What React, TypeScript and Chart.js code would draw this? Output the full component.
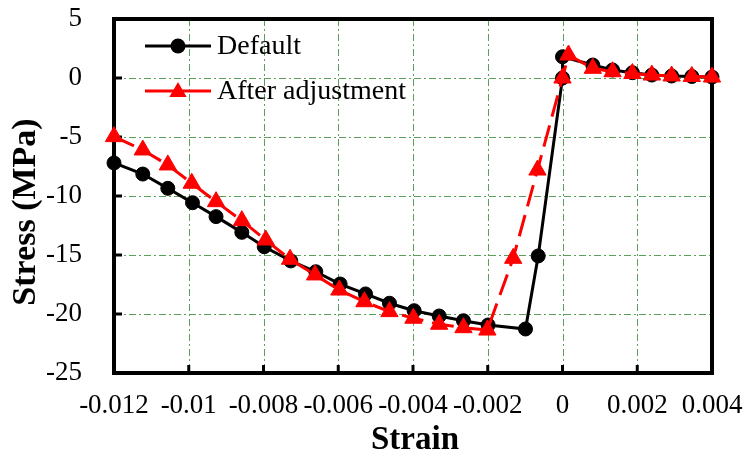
import React, { useEffect, useRef } from "react";
import { Chart, registerables } from "chart.js";

Chart.register(...registerables);

const strainDefault = [-0.012, -0.01123, -0.01056, -0.0099, -0.00927, -0.00858, -0.00798, -0.00727, -0.0066, -0.00595, -0.00527, -0.00463, -0.00397, -0.0033, -0.00265, -0.00199, -0.00099, -0.00065, 0, 0, 0.00081, 0.00134, 0.00187, 0.00239, 0.00292, 0.00346, 0.004];
const stressDefault = [-7.2, -8.14, -9.35, -10.57, -11.75, -13.08, -14.3, -15.5, -16.42, -17.46, -18.3, -19.09, -19.72, -20.17, -20.57, -20.93, -21.27, -15.08, 0, 1.8, 1.1, 0.68, 0.45, 0.25, 0.17, 0.13, 0.08];

const strainAdjusted = [-0.012, -0.01123, -0.01056, -0.00992, -0.00927, -0.00858, -0.00794, -0.00729, -0.00662, -0.00597, -0.0053, -0.00463, -0.00399, -0.0033, -0.00265, -0.00201, -0.00132, -0.00067, 0, 0.00016, 0.00081, 0.00134, 0.00187, 0.00239, 0.00292, 0.00346, 0.004];
const stressAdjusted = [-4.97, -6.1, -7.37, -8.92, -10.48, -12.09, -13.73, -15.36, -16.69, -17.97, -18.96, -19.8, -20.36, -20.87, -21.16, -21.36, -15.28, -7.8, 0, 1.95, 0.82, 0.53, 0.38, 0.25, 0.17, 0.13, 0.08];

const seriesNames = ["Default", "After adjustment"];
const xTitle = "Strain";
const yTitle = "Stress (MPa)";
const xMin = -0.012, xMax = 0.004, xStep = 0.002;
const yMin = -25, yMax = 5, yStep = 5;

const FONT = "'Liberation Serif', 'Times New Roman', serif";
const GRID = "#5a9f5a";

const framePlugin = {
  id: "frameGrid",
  beforeDatasetsDraw(chart: any) {
    const { ctx, chartArea } = chart;
    const { left, right, top, bottom } = chartArea;
    const xs = chart.scales.x, ys = chart.scales.y;
    ctx.save();
    ctx.strokeStyle = GRID;
    ctx.lineWidth = 1;
    ctx.setLineDash([7, 3, 2, 3]);
    xs.ticks.forEach((t: any) => {
      const p = Math.round(xs.getPixelForValue(t.value)) + 0.5;
      if (p > left + 3 && p < right - 3) {
        ctx.beginPath(); ctx.moveTo(p, top); ctx.lineTo(p, bottom); ctx.stroke();
      }
    });
    ys.ticks.forEach((t: any) => {
      const p = Math.round(ys.getPixelForValue(t.value)) + 0.5;
      if (p > top + 3 && p < bottom - 3) {
        ctx.beginPath(); ctx.moveTo(left, p); ctx.lineTo(right, p); ctx.stroke();
      }
    });
    ctx.setLineDash([]);
    ctx.strokeStyle = "#000";
    ctx.lineWidth = 3;
    xs.ticks.forEach((t: any) => {
      const p = xs.getPixelForValue(t.value);
      ctx.beginPath(); ctx.moveTo(p, bottom); ctx.lineTo(p, bottom - 8); ctx.stroke();
    });
    ys.ticks.forEach((t: any) => {
      const p = ys.getPixelForValue(t.value);
      ctx.beginPath(); ctx.moveTo(left, p); ctx.lineTo(left + 8, p); ctx.stroke();
    });
    ctx.lineWidth = 4;
    ctx.strokeRect(left, top, right - left, bottom - top);
    ctx.restore();
  },
  afterDraw(chart: any) {
    const { ctx, chartArea } = chart;
    const { left, right } = chartArea;
    ctx.save();
    ctx.fillStyle = "#000";
    // axis titles
    ctx.font = `bold 33px ${FONT}`;
    ctx.textAlign = "center";
    ctx.textBaseline = "alphabetic";
    ctx.fillText(xTitle, (left + right) / 2 + 2, 449);
    ctx.save();
    ctx.font = `bold 34px ${FONT}`;
    ctx.translate(26, 212);
    ctx.rotate(-Math.PI / 2);
    ctx.textBaseline = "middle";
    ctx.fillText(yTitle, 0, 0);
    ctx.restore();
    // legend
    const lx0 = 145, lx1 = 211, mx = 178;
    const y1 = 46, y2 = 91;
    ctx.lineWidth = 3;
    ctx.strokeStyle = "#000";
    ctx.beginPath(); ctx.moveTo(lx0, y1); ctx.lineTo(lx1, y1); ctx.stroke();
    ctx.beginPath(); ctx.arc(mx, y1, 7.5, 0, Math.PI * 2); ctx.fill();
    ctx.strokeStyle = "#ff0000";
    ctx.fillStyle = "#ff0000";
    ctx.beginPath(); ctx.moveTo(lx0, y2); ctx.lineTo(lx1, y2); ctx.stroke();
    const r = 10;
    ctx.beginPath();
    ctx.moveTo(mx, y2 - r + 1);
    ctx.lineTo(mx + r * 0.866, y2 + r * 0.5 + 1);
    ctx.lineTo(mx - r * 0.866, y2 + r * 0.5 + 1);
    ctx.closePath(); ctx.fill();
    ctx.fillStyle = "#000";
    ctx.font = `28px ${FONT}`;
    ctx.textAlign = "left";
    ctx.textBaseline = "middle";
    ctx.fillText(seriesNames[0], 217, y1 + 1);
    ctx.fillText(seriesNames[1], 217, y2 + 1);
    ctx.restore();
  },
};

export default function App() {
  const ref = useRef<HTMLCanvasElement | null>(null);
  useEffect(() => {
    if (!ref.current) return;
    const chart = new Chart(ref.current, {
      type: "scatter",
      data: {
        datasets: [
          {
            label: seriesNames[1],
            data: strainAdjusted.map((x, i) => ({ x, y: stressAdjusted[i] })),
            showLine: true,
            borderColor: "#ff0000",
            backgroundColor: "#ff0000",
            borderWidth: 3,
            borderDash: [22, 9],
            pointStyle: "triangle",
            pointRadius: 10,
            pointBorderWidth: 1,
            pointBorderColor: "#ff0000",
            pointBackgroundColor: "#ff0000",
            order: 0,
            clip: false as any,
          },
          {
            label: seriesNames[0],
            data: strainDefault.map((x, i) => ({ x, y: stressDefault[i] })),
            showLine: true,
            borderColor: "#000000",
            backgroundColor: "#000000",
            borderWidth: 3,
            pointStyle: "circle",
            pointRadius: 7,
            pointBorderWidth: 1,
            pointBorderColor: "#000000",
            pointBackgroundColor: "#000000",
            order: 1,
            clip: false as any,
          },
        ],
      },
      options: {
        animation: false,
        responsive: false,
        maintainAspectRatio: false,
        layout: { padding: { left: 0, top: 19, right: 34, bottom: 0 } },
        plugins: { legend: { display: false }, tooltip: { enabled: false } },
        scales: {
          x: {
            type: "linear",
            min: xMin,
            max: xMax,
            grid: { display: false },
            border: { display: false },
            ticks: {
              stepSize: xStep,
              color: "#000",
              font: { family: FONT, size: 27 },
              padding: 9,
              maxRotation: 0,
              autoSkip: false,
              callback: (v: any) => String(Number(Number(v).toFixed(3))),
            },
            afterFit: (s: any) => {
              s.height = 93;
              s.paddingLeft = 0; s.paddingRight = 0; s.paddingTop = 0; s.paddingBottom = 0;
            },
          },
          y: {
            type: "linear",
            min: yMin,
            max: yMax,
            grid: { display: false },
            border: { display: false },
            ticks: {
              stepSize: yStep,
              color: "#000",
              font: { family: FONT, size: 27 },
              padding: 24,
              callback: (v: any) => String(v),
            },
            afterFit: (s: any) => {
              s.width = 114;
              s.paddingLeft = 0; s.paddingRight = 0; s.paddingTop = 0; s.paddingBottom = 0;
            },
          },
        },
      },
      plugins: [framePlugin],
    });
    return () => chart.destroy();
  }, []);
  return (
    <div style={{ position: "fixed", left: 0, top: 0, width: 746, height: 466, background: "#fff" }}>
      <canvas ref={ref} width={746} height={466} style={{ width: 746, height: 466 }} />
    </div>
  );
}
